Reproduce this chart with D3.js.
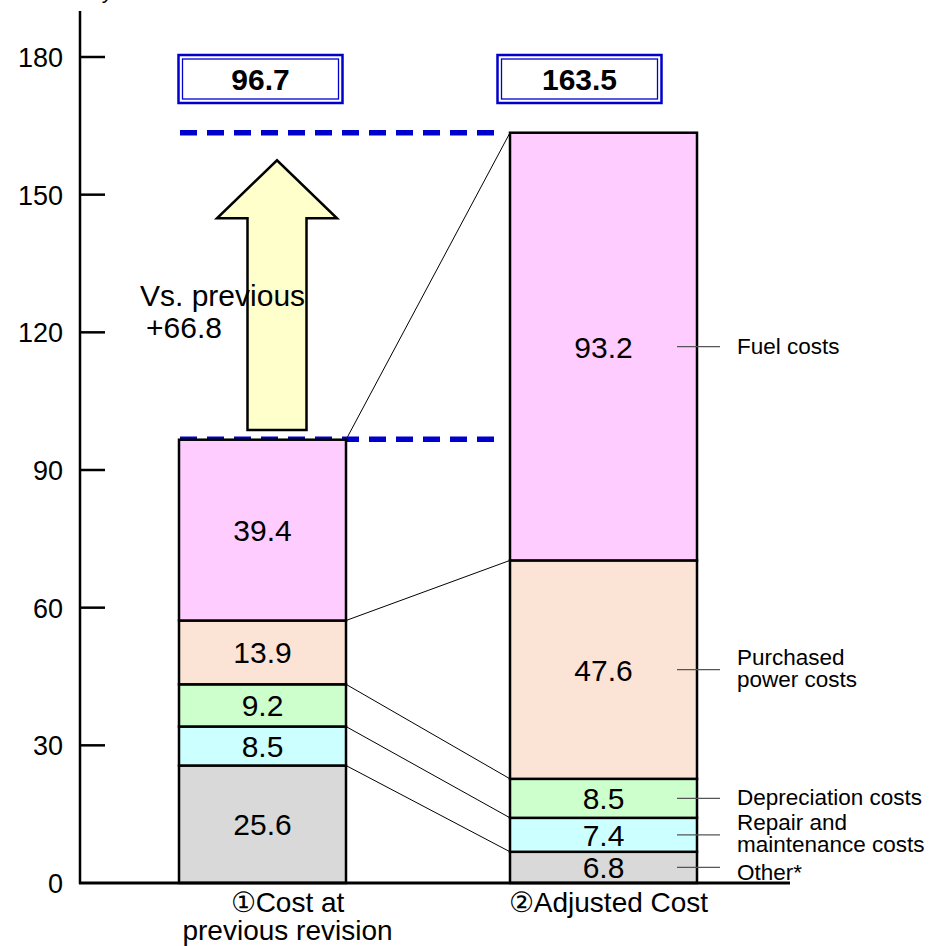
<!DOCTYPE html>
<html>
<head>
<meta charset="utf-8">
<script src="https://cdn.jsdelivr.net/npm/d3@7"></script>
<style>
  html, body { margin: 0; padding: 0; background: #fff; }
  svg { display: block; font-family: "Liberation Sans", Arial, sans-serif; }
</style>
</head>
<body>
<svg id="chart" width="950" height="946"></svg>
<script>
// ---- data ----
const categories = ["①Cost at\nprevious revision", "②Adjusted Cost"];
const segmentKeys = ["Other*", "Repair and\nmaintenance costs", "Depreciation costs", "Purchased\npower costs", "Fuel costs"];
const previousValues = [25.6, 8.5, 9.2, 13.9, 39.4];
const adjustedValues = [6.8, 7.4, 8.5, 47.6, 93.2];
const totals = [96.7, 163.5];
const changeLabel = ["Vs. previous", "+66.8"];
const yTicks = [0, 30, 60, 90, 120, 150, 180];
const unitLabel = "Billion yen";

// ---- styles ----
const segColors = ["#d9d9d9", "#ccffff", "#ccffcc", "#fbe4d6", "#ffccff"];
const blue = "#0000cc";

const svg = d3.select("#chart");

const y = d3.scaleLinear().domain([0, 190]).range([883, 883 - 190 * (826 / 180)]);
const x = d3.scalePoint().domain(categories).range([262.5, 603.5]);
const barWidth = [167, 187];

const rows = categories.map((c, i) => {
  const vals = i === 0 ? previousValues : adjustedValues;
  const r = { cat: c };
  segmentKeys.forEach((k, j) => r[k] = vals[j]);
  return r;
});
const stacked = d3.stack().keys(segmentKeys)(rows);

const left = i => x(categories[i]) - barWidth[i] / 2;
const right = i => x(categories[i]) + barWidth[i] / 2;

// unit caption (sits above the plot top)
svg.append("text").attr("x", 37).attr("y", -2)
  .attr("font-size", 22).text(unitLabel);

// ---- connector lines between the two stacks ----
const g = svg.append("g");
stacked.forEach(layer => {
  g.append("line")
    .attr("x1", right(0)).attr("y1", y(layer[0][1]))
    .attr("x2", left(1)).attr("y2", y(layer[1][1]))
    .attr("stroke", "#000").attr("stroke-width", 1);
});

// ---- dashed total lines ----
totals.forEach(t => {
  svg.append("line")
    .attr("x1", 180).attr("x2", 503)
    .attr("y1", y(t)).attr("y2", y(t))
    .attr("stroke", blue).attr("stroke-width", 5.5)
    .attr("stroke-dasharray", "17,10");
});

// ---- stacked bars ----
stacked.forEach((layer, li) => {
  layer.forEach((d, i) => {
    svg.append("rect")
      .attr("x", left(i)).attr("width", barWidth[i])
      .attr("y", y(d[1])).attr("height", y(d[0]) - y(d[1]))
      .attr("fill", segColors[li])
      .attr("stroke", "#000").attr("stroke-width", 2.5);
  });
});

// value labels inside segments
stacked.forEach((layer, li) => {
  layer.forEach((d, i) => {
    const v = (i === 0 ? previousValues : adjustedValues)[li];
    svg.append("text")
      .attr("x", x(categories[i]))
      .attr("y", y((d[0] + d[1]) / 2) + 11)
      .attr("text-anchor", "middle")
      .attr("font-size", 30)
      .text(v.toFixed(1));
  });
});

// ---- segment names on the right with leaders ----
stacked.forEach((layer, li) => {
  const d = layer[1];
  const cy = y((d[0] + d[1]) / 2);
  svg.append("line")
    .attr("x1", right(1) - 20).attr("x2", right(1) + 23)
    .attr("y1", cy).attr("y2", cy)
    .attr("stroke", "#555").attr("stroke-width", 1.2);
  const lines = segmentKeys[li].split("\n");
  const t = svg.append("text").attr("x", 737).attr("font-size", 22.5);
  const base = lines.length === 1 ? cy + 7 + (li === 0 ? 6 : 0) : cy - 5;
  lines.forEach((ln, k) => {
    t.append("tspan").attr("x", 737).attr("y", base + k * 22).text(ln);
  });
});

// ---- increase arrow ----
const ax = x(categories[0]) + 14.5;
const yb = y(totals[0] + 2), yt = y(totals[1] - 6), yh = yt + 58;
const arrowPts = [
  [ax - 29.5, yb], [ax - 29.5, yh], [ax - 60, yh], [ax, yt],
  [ax + 60, yh], [ax + 29.5, yh], [ax + 29.5, yb]
];
svg.append("path")
  .attr("d", d3.line()(arrowPts) + "Z")
  .attr("fill", "#ffffcc").attr("stroke", "#000").attr("stroke-width", 2.5)
  .attr("stroke-linejoin", "miter");

svg.append("text").attr("x", 140).attr("y", 306).attr("font-size", 30).text(changeLabel[0]);
svg.append("text").attr("x", 146).attr("y", 338).attr("font-size", 30).text(changeLabel[1]);

// ---- total boxes ----
const boxShift = [-2, -24];
totals.forEach((t, i) => {
  const cx = x(categories[i]) + boxShift[i];
  svg.append("rect").attr("x", cx - 82).attr("y", 55).attr("width", 164).attr("height", 48)
    .attr("fill", "#fff").attr("stroke", blue).attr("stroke-width", 2.5);
  svg.append("rect").attr("x", cx - 78).attr("y", 59).attr("width", 156).attr("height", 40)
    .attr("fill", "none").attr("stroke", blue).attr("stroke-width", 1.3);
  svg.append("text").attr("x", cx).attr("y", 90)
    .attr("text-anchor", "middle").attr("font-size", 30).attr("font-weight", "bold")
    .text(t.toFixed(1));
});

// ---- axes ----
svg.append("line").attr("x1", 80).attr("x2", 80).attr("y1", y(190)).attr("y2", 884)
  .attr("stroke", "#000").attr("stroke-width", 2.5);
yTicks.forEach(v => {
  if (v > 0) {
    svg.append("line").attr("x1", 80).attr("x2", 105).attr("y1", y(v)).attr("y2", y(v))
      .attr("stroke", "#000").attr("stroke-width", 2.5);
  }
  svg.append("text").attr("x", 63).attr("y", y(v) + 10)
    .attr("text-anchor", "end").attr("font-size", 27).text(v);
});
svg.append("line").attr("x1", 79).attr("x2", 790).attr("y1", 883).attr("y2", 883)
  .attr("stroke", "#000").attr("stroke-width", 3);

// category labels
const catShift = [25, 5];
categories.forEach((c, i) => {
  const t = svg.append("text").attr("text-anchor", "middle").attr("font-size", 28);
  c.split("\n").forEach((ln, k) => {
    t.append("tspan").attr("x", x(c) + catShift[i]).attr("y", 912 + k * 28).text(ln);
  });
});
</script>
</body>
</html>
